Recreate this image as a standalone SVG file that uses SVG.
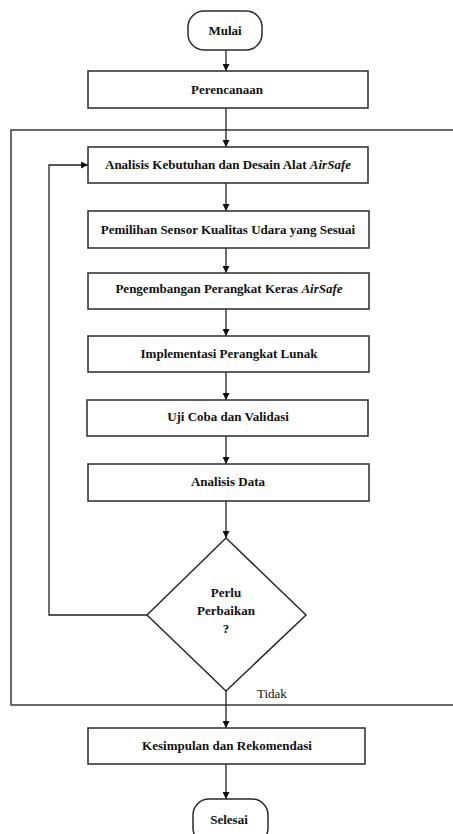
<svg xmlns="http://www.w3.org/2000/svg" width="453" height="834" viewBox="0 0 453 834">
<defs>
<marker id="ah" viewBox="0 0 10 10" refX="10" refY="5" markerWidth="7" markerHeight="7" markerUnits="userSpaceOnUse" orient="auto">
<path d="M0,0 L10,5 L0,10 z" fill="#111"/>
</marker>
<style>
.box{fill:#fff;stroke:#2a2a2a;stroke-width:1.5}
.frame{fill:none;stroke:#444;stroke-width:1.6}
.lbl{font-family:"Liberation Serif","Times New Roman",serif;font-weight:bold;font-size:13px;fill:#111;text-anchor:middle}
.plain{font-family:"Liberation Serif","Times New Roman",serif;font-size:13px;fill:#111}
.con{fill:none;stroke:#222;stroke-width:1.3}
</style>
</defs>
<rect width="453" height="834" fill="#fff"/>
<rect id="frame" class="frame" x="11" y="130" width="450" height="575"/>
<g id="connectors">
<path class="con" d="M226,50 V71" marker-end="url(#ah)"/>
<path class="con" d="M226,108 V147" marker-end="url(#ah)"/>
<path class="con" d="M226,183 V211" marker-end="url(#ah)"/>
<path class="con" d="M226,248 V273" marker-end="url(#ah)"/>
<path class="con" d="M226,309 V336" marker-end="url(#ah)"/>
<path class="con" d="M226,372 V400" marker-end="url(#ah)"/>
<path class="con" d="M226,436 V464" marker-end="url(#ah)"/>
<path class="con" d="M226,501 V538" marker-end="url(#ah)"/>
<path class="con" d="M147,615 H49 V165 H88" marker-end="url(#ah)"/>
<path class="con" d="M226,691 V728" marker-end="url(#ah)"/>
<path class="con" d="M226,764 V799" marker-end="url(#ah)"/>
<text class="plain" x="257" y="698">Tidak</text>
</g>
<g id="mulai">
<rect class="box" x="188" y="11" width="74" height="39" rx="16" ry="16"/>
<text class="lbl" x="225" y="35">Mulai</text>
</g>
<g id="perencanaan">
<rect class="box" x="88" y="71" width="280" height="37"/>
<text class="lbl" x="227" y="94">Perencanaan</text>
</g>
<g id="analisis">
<rect class="box" x="88" y="147" width="280" height="36"/>
<text class="lbl" x="228" y="169">Analisis Kebutuhan dan Desain Alat <tspan font-style="italic">AirSafe</tspan></text>
</g>
<g id="pemilihan">
<rect class="box" x="88" y="211" width="281" height="37"/>
<text class="lbl" x="228" y="233.5">Pemilihan Sensor Kualitas Udara yang Sesuai</text>
</g>
<g id="pengembangan">
<rect class="box" x="88" y="273" width="281" height="36"/>
<text class="lbl" x="229" y="293">Pengembangan Perangkat Keras <tspan font-style="italic">AirSafe</tspan></text>
</g>
<g id="implementasi">
<rect class="box" x="88" y="336" width="281" height="36"/>
<text class="lbl" x="229" y="358">Implementasi Perangkat Lunak</text>
</g>
<g id="uji">
<rect class="box" x="87" y="400" width="281" height="36"/>
<text class="lbl" x="228" y="421">Uji Coba dan Validasi</text>
</g>
<g id="analisisdata">
<rect class="box" x="88" y="464" width="281" height="37"/>
<text class="lbl" x="228" y="485.5">Analisis Data</text>
</g>
<g id="keputusan">
<polygon class="box" points="226,538 306,615 226,691 147,615"/>
<text class="lbl" x="226" y="597">Perlu</text>
<text class="lbl" x="226" y="615">Perbaikan</text>
<text class="lbl" x="226" y="633">?</text>
</g>
<g id="kesimpulan">
<rect class="box" x="88" y="728" width="277" height="36"/>
<text class="lbl" x="227" y="750">Kesimpulan dan Rekomendasi</text>
</g>
<g id="selesai">
<rect class="box" x="193" y="799" width="75" height="45" rx="16" ry="16"/>
<text class="lbl" x="229" y="824">Selesai</text>
</g>
</svg>
